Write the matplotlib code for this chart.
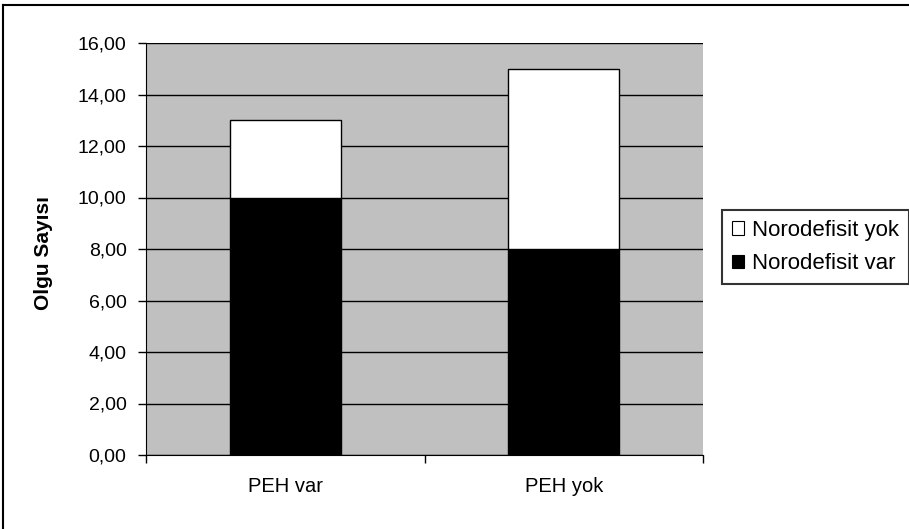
import matplotlib.pyplot as plt
from matplotlib.patches import Patch
from matplotlib.lines import Line2D

# Veriler
categories = ['PEH var', 'PEH yok']
defisit_var = [10, 8]
defisit_yok = [3, 7]
yticks = [0, 2, 4, 6, 8, 10, 12, 14, 16]

plt.rcParams['font.family'] = ['Liberation Sans', 'DejaVu Sans']

W, H = 909, 529
fig = plt.figure(figsize=(W / 100, H / 100), dpi=100)
ax = fig.add_axes([146 / W, (H - 455) / H, (703 - 146) / W, (455 - 43) / H])
ax.set_facecolor('#C0C0C0')

x = list(range(len(categories)))
ax.bar(x, defisit_var, width=0.4, color='black', edgecolor='black', linewidth=1, zorder=3)
ax.bar(x, defisit_yok, width=0.4, bottom=defisit_var, color='white', edgecolor='black',
       linewidth=1, zorder=3)

ax.set_xlim(-0.5, 1.5)
ax.set_ylim(0, 16)
ax.set_yticks(yticks)
ax.set_yticklabels([f'{v:.2f}'.replace('.', ',') for v in yticks], fontsize=14)
ax.yaxis.grid(True, color='black', linewidth=1, zorder=1)
ax.set_axisbelow(True)

# kategori sınırlarında tik, etiketler ortada
ax.set_xticks([-0.5, 0.5, 1.5])
ax.set_xticklabels([])
ax.set_xticks(x, minor=True)
ax.set_xticklabels(categories, minor=True, fontsize=14.5)
ax.tick_params(axis='x', which='minor', length=0, pad=16)
ax.tick_params(axis='both', which='major', direction='out', length=6, width=1, color='black')
ax.tick_params(axis='y', pad=8)

for s in ['top', 'right']:
    ax.spines[s].set_visible(False)
ax.spines['left'].set_color('black')
ax.spines['bottom'].set_color('black')

ax.set_ylabel('Olgu Sayısı', fontsize=15, fontweight='bold')
ax.yaxis.set_label_coords(-(146 - 53) / (703 - 146), (455 - 253) / (455 - 43))

handles = [Patch(facecolor='white', edgecolor='black', linewidth=0.8),
           Patch(facecolor='black', edgecolor='black', linewidth=0.8)]
leg = fig.legend(handles, ['Norodefisit yok', 'Norodefisit var'],
                 loc='upper left', bbox_to_anchor=(722 / W, 1 - 210 / H),
                 borderaxespad=0, fontsize=16, fancybox=False, frameon=True,
                 handlelength=0.55, handleheight=0.55, handletextpad=0.35,
                 labelspacing=0.55, borderpad=0.45)
leg.get_frame().set_edgecolor('black')
leg.get_frame().set_linewidth(1.5)

# dış çerçeve
fig.add_artist(Line2D([3 / W, 3 / W], [0, 1 - 5 / H], color='black', linewidth=1.5))
fig.add_artist(Line2D([3 / W, 908 / W], [1 - 5 / H, 1 - 5 / H], color='black', linewidth=1.5))

fig.savefig('out.png', dpi=100)
